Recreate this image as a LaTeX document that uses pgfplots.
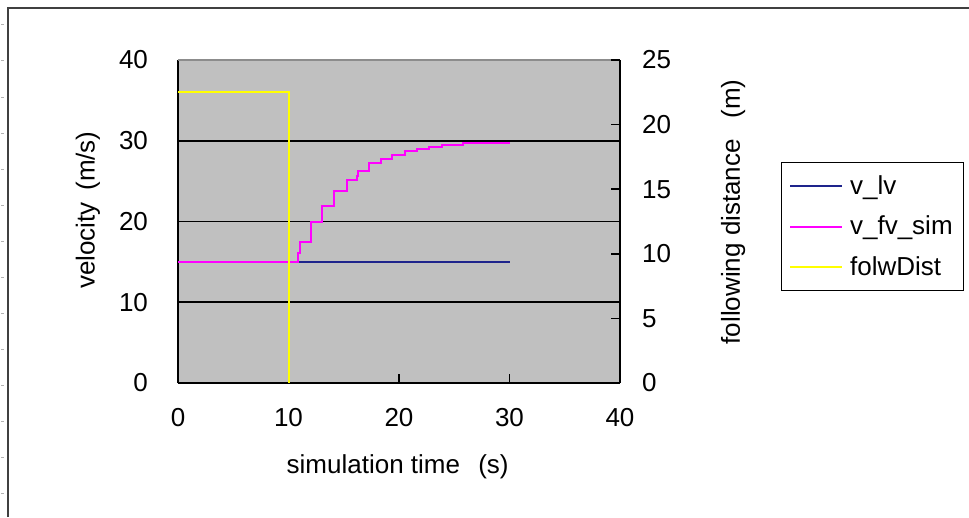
\documentclass[border=0pt]{standalone}
\usepackage{fontspec}
\setmainfont{Liberation Sans}
\usepackage{pgfplots}
\pgfplotsset{compat=1.18}

\definecolor{plotgray}{RGB}{192,192,192}
\definecolor{lvblue}{RGB}{30,36,140}
\definecolor{fvmag}{RGB}{255,0,255}
\definecolor{distyel}{RGB}{255,255,0}

\newcommand{\chartfont}{\fontsize{19.5}{22}\selectfont}

\pgfplotsset{
  simaxis/.style={
    at={(133.5pt,-287.25pt)}, anchor=south west,
    scale only axis, width=331.5pt, height=242.25pt,
    xmin=0, xmax=40,
    axis line style={line width=1.2pt, -},
    tick align=inside, major tick length=7pt,
    tick style={line width=1.2pt, black},
    tick label style={font=\chartfont, /pgf/number format/assume math mode=true},
  },
}

\begin{document}
\begin{tikzpicture}
% chart area, in pixel-like units
\begin{scope}[x=0.75pt, y=-0.75pt]
  \useasboundingbox (0,0) rectangle (969,517);
  \fill[white] (0,0) rectangle (969,517);
  \draw[line width=1.5pt, black!75] (8,517) -- (8,8) -- (969,8);
  \foreach \yy in {25,61,...,495} \draw[black!30, line width=0.75pt] (1,\yy) -- (4,\yy);
\end{scope}

% velocity axis
\begin{axis}[simaxis,
  ymin=0, ymax=40,
  axis x line*=bottom, axis y line*=left,
  xtick={0,10,...,40},
  ytick={0,40}, extra y ticks={10,20,30},
  extra tick style={grid=major},
  grid style={line width=1.2pt, black},
  axis background/.style={fill=plotgray},
  yticklabel style={xshift=-19pt},
  xticklabel style={yshift=-15.5pt},
  clip=false,
]
  \draw[black!45, line width=1pt] (rel axis cs:0,1) -- (rel axis cs:1,1);
  \addplot[lvblue, line width=1.5pt] coordinates {(0,15) (30,15)};
  \addplot[fvmag, line width=1.5pt, const plot] coordinates {
    (0,15) (10.9,16.1) (11.0,17.5) (12.0,20.0) (13.05,21.9) (14.15,23.8)
    (15.25,25.2) (16.2,25.6) (16.3,26.2) (17.3,27.3) (18.4,27.7) (19.4,28.2)
    (20.5,28.7) (21.6,29.0) (22.7,29.2) (23.9,29.5) (25.8,29.7) (30,29.7)};
  \node[rotate=90, font=\chartfont] at (axis description cs:-0.204,0.535) {velocity\hspace{0.45em}(m/s)};
  \node[font=\chartfont] at (axis description cs:0.497,-0.26) {simulation time\hspace{0.7em}(s)};
\end{axis}

% following distance axis
\begin{axis}[simaxis,
  ymin=0, ymax=25,
  axis x line=none, axis y line*=right,
  ytick={0,5,...,25},
  yticklabel style={xshift=13pt},
  clip=false,
  legend style={at={(axis description cs:1.364,0.684)}, anchor=north west,
    draw=black, line width=0.8pt, fill=white, font=\chartfont,
    row sep=11pt, inner xsep=6pt, inner ysep=7.5pt,
    /tikz/every odd column/.append style={column sep=3pt}},
  legend cell align=left,
  legend image code/.code={\draw[#1] (0pt,0pt) -- (39pt,0pt);},
]
  \addlegendimage{lvblue, line width=1.5pt}
  \addlegendentry{v\_lv}
  \addlegendimage{fvmag, line width=1.5pt}
  \addlegendentry{v\_fv\_sim}
  \addplot[distyel, line width=1.5pt] coordinates {(0,22.5) (10,22.5) (10,0)};
  \addlegendentry{folwDist}
  \node[rotate=90, font=\chartfont] at (axis description cs:1.256,0.53) {following distance\hspace{0.8em}(m)};
\end{axis}
\end{tikzpicture}
\end{document}
